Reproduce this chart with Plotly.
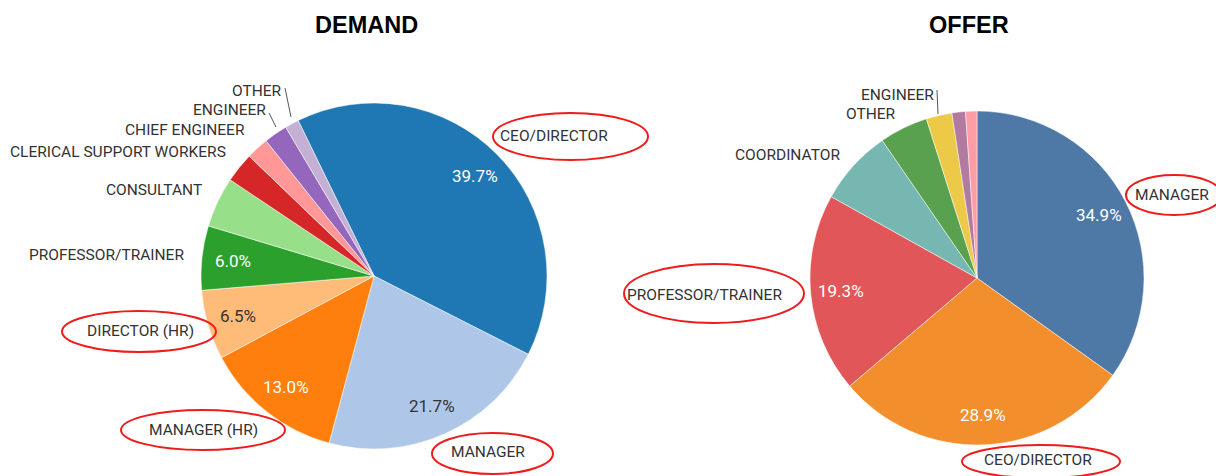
import math
import plotly.graph_objects as go

# ---------------- data ----------------
demand_labels = ["CEO/DIRECTOR", "MANAGER", "MANAGER (HR)", "DIRECTOR (HR)", "PROFESSOR/TRAINER",
                 "CONSULTANT", "CLERICAL SUPPORT WORKERS", "CHIEF ENGINEER", "ENGINEER", "OTHER"]
demand_values = [39.7, 21.7, 13.0, 6.5, 6.0, 4.7, 2.8, 2.1, 2.2, 1.3]
demand_colors = ["#1f77b4", "#aec7e8", "#ff7f0e", "#ffbb78", "#2ca02c",
                 "#98df8a", "#d62728", "#ff9896", "#9467bd", "#c5b0d5"]
demand_shown_pct = [True, True, True, True, True, False, False, False, False, False]

offer_labels = ["MANAGER", "CEO/DIRECTOR", "PROFESSOR/TRAINER", "COORDINATOR", "OTHER",
                "ENGINEER", "CONSULTANT", "CHIEF ENGINEER"]
offer_values = [34.9, 28.9, 19.3, 7.3, 4.7, 2.5, 1.3, 1.1]
offer_colors = ["#4e79a7", "#f28e2b", "#e15759", "#76b7b2", "#59a14f",
                "#edc948", "#b07aa1", "#ff9da7"]
offer_shown_pct = [True, True, True, False, False, False, False, False]

W, H = 1216, 476
FONT = "Roboto"
LBL = "#333333"


def px(x):
    return x / W


def py(y):
    return 1 - y / H


LIGHT = {"#aec7e8", "#ffbb78", "#98df8a", "#ff9896", "#c5b0d5"}

# pie geometry (screen px): centre and radius
DEM = dict(cx=374, cy=276, r=173, rot=-26)
OFF = dict(cx=977, cy=278, r=167, rot=0)

fig = go.Figure()

fig.add_trace(go.Pie(
    labels=demand_labels, values=demand_values, sort=False, direction="clockwise",
    rotation=DEM["rot"], textinfo="none",
    marker=dict(colors=demand_colors, line=dict(color="white", width=0.5)),
    domain=dict(x=[px(DEM["cx"] - DEM["r"]), px(DEM["cx"] + DEM["r"])],
                y=[py(DEM["cy"] + DEM["r"]), py(DEM["cy"] - DEM["r"])]),
    showlegend=False, hoverinfo="label+percent",
))

fig.add_trace(go.Pie(
    labels=offer_labels, values=offer_values, sort=False, direction="clockwise",
    rotation=OFF["rot"], textinfo="none",
    marker=dict(colors=offer_colors, line=dict(color="white", width=0.5)),
    domain=dict(x=[px(OFF["cx"] - OFF["r"]), px(OFF["cx"] + OFF["r"])],
                y=[py(OFF["cy"] + OFF["r"]), py(OFF["cy"] - OFF["r"])]),
    showlegend=False, hoverinfo="label+percent",
))

annotations = []


def pct_labels(values, colors, shown, geo, frac=0.82):
    total = sum(values)
    start = geo["rot"]
    for v, c, s in zip(values, colors, shown):
        span = 360 * v / total
        mid = math.radians(start + span / 2)
        start += span
        if not s:
            continue
        x = geo["cx"] + frac * geo["r"] * math.sin(mid)
        y = geo["cy"] - frac * geo["r"] * math.cos(mid)
        annotations.append(dict(text=f"{v:.1f}%", x=px(x), y=py(y), xref="paper", yref="paper",
                                xanchor="center", yanchor="middle", showarrow=False,
                                font=dict(family=FONT, size=17,
                                          color="#333333" if c in LIGHT else "white")))


pct_labels(demand_values, demand_colors, demand_shown_pct, DEM)
pct_labels(offer_values, offer_colors, offer_shown_pct, OFF)


def label(text, x, y, anchor="center"):
    annotations.append(dict(text=text, x=px(x), y=py(y), xref="paper", yref="paper",
                            xanchor=anchor, yanchor="middle", showarrow=False,
                            font=dict(family=FONT, size=15.5, color=LBL)))


# titles
for t, x in [("DEMAND", 367), ("OFFER", 969)]:
    annotations.append(dict(text=f"<b>{t}</b>", x=px(x), y=py(25), xref="paper", yref="paper",
                            xanchor="center", yanchor="middle", showarrow=False,
                            font=dict(family="Liberation Sans", size=23.5, color="black")))

# demand labels
label("OTHER", 284, 91, "right")
label("ENGINEER", 268, 110, "right")
label("CHIEF ENGINEER", 247, 130, "right")
label("CLERICAL SUPPORT WORKERS", 228, 152, "right")
label("CONSULTANT", 204, 190, "right")
label("PROFESSOR/TRAINER", 186, 255, "right")
label("DIRECTOR (HR)", 140, 331)
label("MANAGER (HR)", 203, 430)
label("MANAGER", 488, 452)
label("CEO/DIRECTOR", 554, 136)

# offer labels
label("ENGINEER", 936, 95, "right")
label("OTHER", 898, 114, "right")
label("COORDINATOR", 842, 155, "right")
label("PROFESSOR/TRAINER", 704, 295)
label("MANAGER", 1172, 195)
label("CEO/DIRECTOR", 1038, 460)

shapes = []


def ellipse(x0, y0, x1, y1):
    shapes.append(dict(type="circle", xref="paper", yref="paper",
                       x0=px(x0), x1=px(x1), y0=py(y1), y1=py(y0),
                       line=dict(color="#ee1c1c", width=2), fillcolor="rgba(0,0,0,0)"))


def leader(x0, y0, x1, y1):
    shapes.append(dict(type="line", xref="paper", yref="paper",
                       x0=px(x0), y0=py(y0), x1=px(x1), y1=py(y1),
                       line=dict(color="#555555", width=1)))


ellipse(493, 113, 648, 160)
ellipse(62, 311, 216, 352)
ellipse(121, 410, 285, 450)
ellipse(432, 433, 553, 474)
ellipse(624, 264, 804, 323)
ellipse(1126, 175, 1222, 215)
ellipse(962, 445, 1120, 478)

leader(285, 88, 291, 117)
leader(269, 113, 276, 127)
leader(937, 90, 938, 114)

fig.update_layout(
    width=W, height=H, margin=dict(l=0, r=0, t=0, b=0),
    paper_bgcolor="white", plot_bgcolor="white",
    annotations=annotations, shapes=shapes,
)

fig.write_html(
    "out.html",
    config={"displayModeBar": False},
    post_script="document.body.style.margin='0';document.body.style.overflow='hidden';",
)
